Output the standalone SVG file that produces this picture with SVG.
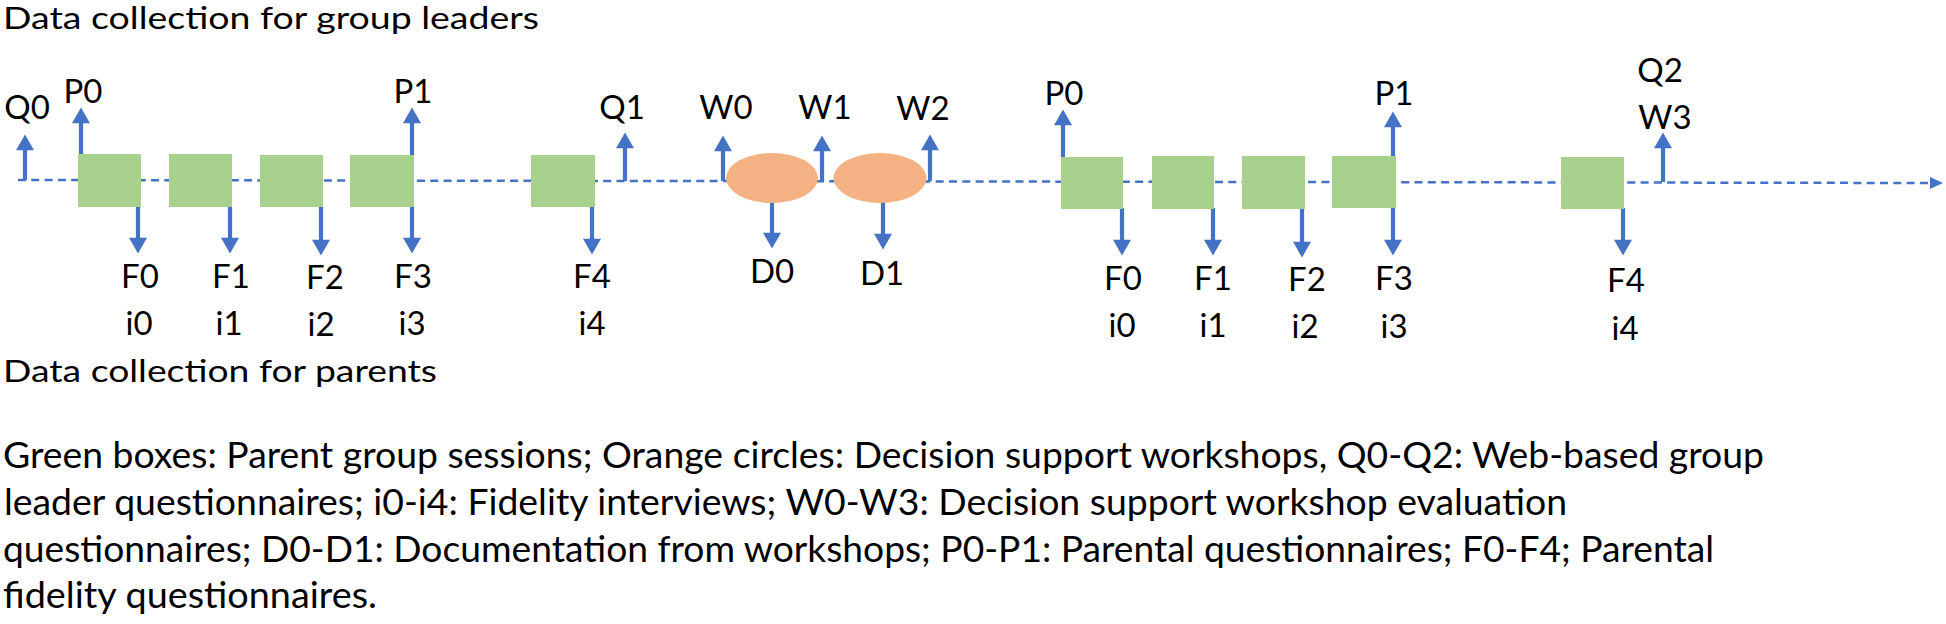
<svg xmlns="http://www.w3.org/2000/svg" width="1946" height="624" viewBox="0 0 1946 624">
  <style>
    text { font-family: Lato, "Open Sans", "Liberation Sans", sans-serif; fill: #000; }
    .title { font-size: 31.5px; }
    .lbl { font-size: 33px; text-anchor: middle; }
    .legend { font-size: 36px; }
    .box { fill: #A9D18E; }
    .ws { fill: #F4B183; }
    .arr { stroke: #4472C4; stroke-width: 4.2; fill: none; marker-end: url(#ah); }
    .timeline { stroke: #4472C4; stroke-width: 2.5; stroke-dasharray: 8 5.3; fill: none; marker-end: url(#tl); }
  </style>
  <defs>
    <marker id="ah" markerUnits="userSpaceOnUse" markerWidth="18" markerHeight="18" refX="5" refY="8.5" orient="auto" viewBox="0 0 16 17">
      <path d="M0,0 L15,8.5 L0,17 z" fill="#4472C4"/>
    </marker>
    <marker id="tl" markerUnits="userSpaceOnUse" markerWidth="14" markerHeight="13" refX="2" refY="6" orient="auto" viewBox="0 0 14 12">
      <path d="M0,0 L13,6 L0,12 z" fill="#4472C4"/>
    </marker>
  </defs>

  <text class="title" x="3" y="29" textLength="536" lengthAdjust="spacingAndGlyphs">Data collection for group leaders</text>
  <text class="title" x="3" y="382" textLength="434" lengthAdjust="spacingAndGlyphs">Data collection for parents</text>

  <g id="connectors">
    <line class="timeline" x1="18" y1="180" x2="1932" y2="183"/>
    <!-- up arrows -->
    <line class="arr" x1="25" y1="180" x2="25" y2="145"/>
    <line class="arr" x1="81" y1="156" x2="81" y2="118"/>
    <line class="arr" x1="412" y1="156" x2="412" y2="118"/>
    <line class="arr" x1="625" y1="181" x2="625" y2="143"/>
    <line class="arr" x1="723" y1="181" x2="723" y2="146"/>
    <line class="arr" x1="822" y1="181" x2="822" y2="146"/>
    <line class="arr" x1="930" y1="181" x2="930" y2="145"/>
    <line class="arr" x1="1063" y1="158" x2="1063" y2="120"/>
    <line class="arr" x1="1393" y1="157" x2="1393" y2="122"/>
    <line class="arr" x1="1663" y1="182" x2="1663" y2="143"/>
    <!-- down arrows -->
    <line class="arr" x1="138" y1="206" x2="138" y2="243"/>
    <line class="arr" x1="230" y1="206" x2="230" y2="243"/>
    <line class="arr" x1="321" y1="207" x2="321" y2="245"/>
    <line class="arr" x1="412" y1="206" x2="412" y2="243"/>
    <line class="arr" x1="592" y1="207" x2="592" y2="244"/>
    <line class="arr" x1="772" y1="202" x2="772" y2="238"/>
    <line class="arr" x1="883" y1="202" x2="883" y2="239"/>
    <line class="arr" x1="1122" y1="208" x2="1122" y2="245"/>
    <line class="arr" x1="1213" y1="208" x2="1213" y2="245"/>
    <line class="arr" x1="1302" y1="209" x2="1302" y2="247"/>
    <line class="arr" x1="1393" y1="207" x2="1393" y2="245"/>
    <line class="arr" x1="1623" y1="208" x2="1623" y2="245"/>
  </g>

  <g id="session1"><rect class="box" x="78" y="154" width="63" height="53"/></g>
  <g id="session2"><rect class="box" x="169" y="154" width="63" height="53"/></g>
  <g id="session3"><rect class="box" x="260" y="155" width="63" height="52"/></g>
  <g id="session4"><rect class="box" x="350" y="155" width="64" height="52"/></g>
  <g id="session5"><rect class="box" x="531" y="155" width="64" height="52"/></g>
  <g id="workshop1"><ellipse class="ws" cx="772" cy="178" rx="46" ry="25"/></g>
  <g id="workshop2"><ellipse class="ws" cx="880" cy="178" rx="46.5" ry="25"/></g>
  <g id="session6"><rect class="box" x="1061" y="157" width="62" height="52"/></g>
  <g id="session7"><rect class="box" x="1152" y="156" width="62" height="53"/></g>
  <g id="session8"><rect class="box" x="1242" y="156" width="63" height="53"/></g>
  <g id="session9"><rect class="box" x="1332" y="156" width="64" height="52"/></g>
  <g id="session10"><rect class="box" x="1561" y="157" width="63" height="52"/></g>

  <g id="labels-top">
    <text class="lbl" x="27" y="119">Q0</text>
    <text class="lbl" x="83" y="103">P0</text>
    <text class="lbl" x="413" y="103">P1</text>
    <text class="lbl" x="622" y="119">Q1</text>
    <text class="lbl" x="726" y="119">W0</text>
    <text class="lbl" x="825" y="119">W1</text>
    <text class="lbl" x="923" y="120">W2</text>
    <text class="lbl" x="1064" y="105">P0</text>
    <text class="lbl" x="1394" y="105">P1</text>
    <text class="lbl" x="1660" y="82">Q2</text>
    <text class="lbl" x="1665" y="129">W3</text>
  </g>
  <g id="labels-bottom">
    <text class="lbl" x="140" y="288">F0</text>
    <text class="lbl" x="139" y="335">i0</text>
    <text class="lbl" x="231" y="288">F1</text>
    <text class="lbl" x="229" y="335">i1</text>
    <text class="lbl" x="325" y="289">F2</text>
    <text class="lbl" x="321" y="336">i2</text>
    <text class="lbl" x="413" y="288">F3</text>
    <text class="lbl" x="412" y="335">i3</text>
    <text class="lbl" x="592" y="288">F4</text>
    <text class="lbl" x="592" y="335">i4</text>
    <text class="lbl" x="772" y="283">D0</text>
    <text class="lbl" x="882" y="285">D1</text>
    <text class="lbl" x="1123" y="290">F0</text>
    <text class="lbl" x="1122" y="337">i0</text>
    <text class="lbl" x="1213" y="290">F1</text>
    <text class="lbl" x="1213" y="337">i1</text>
    <text class="lbl" x="1307" y="291">F2</text>
    <text class="lbl" x="1305" y="338">i2</text>
    <text class="lbl" x="1394" y="290">F3</text>
    <text class="lbl" x="1394" y="338">i3</text>
    <text class="lbl" x="1626" y="292">F4</text>
    <text class="lbl" x="1625" y="340">i4</text>
  </g>

  <g id="legend">
    <text class="legend" x="3" y="468" textLength="1761" lengthAdjust="spacingAndGlyphs">Green boxes: Parent group sessions; Orange circles: Decision support workshops, Q0-Q2: Web-based group</text>
    <text class="legend" x="4" y="515" textLength="1563" lengthAdjust="spacingAndGlyphs">leader questionnaires; i0-i4: Fidelity interviews; W0-W3: Decision support workshop evaluation</text>
    <text class="legend" x="3" y="562" textLength="1711" lengthAdjust="spacingAndGlyphs">questionnaires; D0-D1: Documentation from workshops; P0-P1: Parental questionnaires; F0-F4; Parental</text>
    <text class="legend" x="3" y="608" textLength="374" lengthAdjust="spacingAndGlyphs">fidelity questionnaires.</text>
  </g>
</svg>
